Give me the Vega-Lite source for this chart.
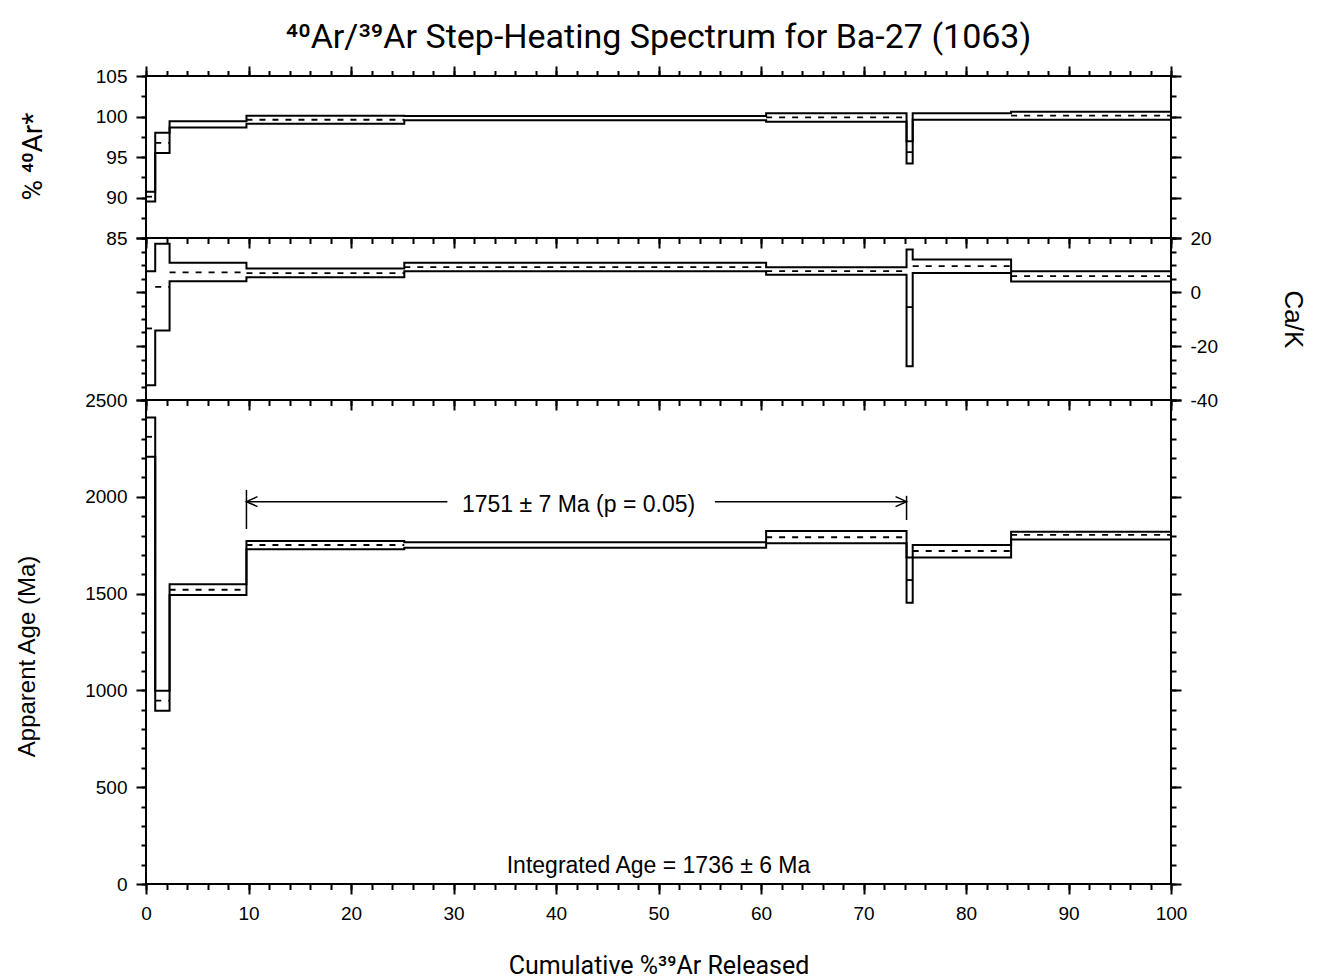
{
  "$schema": "https://vega.github.io/schema/vega-lite/v6.json",
  "padding": {"left": 14, "top": 21, "right": 8, "bottom": 0},
  "background": "white",
  "title": {"text": "⁴⁰Ar/³⁹Ar Step-Heating Spectrum for Ba-27 (1063)", "font": "Roboto", "fontSize": 34, "fontWeight": "normal", "color": "black", "anchor": "middle", "frame": "group", "offset": 9},
  "datasets": {
    "steps": [
      {"step": 1, "x0": 0, "x1": 0.9, "ar": 90.1, "ar_lo": 89.5, "ar_hi": 90.7, "cak": -13.5, "cak_lo": -34.5, "cak_hi": 7.7, "age": 2310, "age_lo": 2207, "age_hi": 2410},
      {"step": 2, "x0": 0.9, "x1": 2.3, "ar": 96.75, "ar_lo": 95.5, "ar_hi": 98.0, "cak": 1.9, "cak_lo": -14.3, "cak_hi": 17.85, "age": 947, "age_lo": 895, "age_hi": 998},
      {"step": 3, "x0": 2.3, "x1": 9.8, "ar": 99.0, "ar_lo": 98.65, "ar_hi": 99.4, "cak": 7.3, "cak_lo": 4.0, "cak_hi": 10.8, "age": 1520, "age_lo": 1493, "age_hi": 1548},
      {"step": 4, "x0": 9.8, "x1": 25.2, "ar": 99.6, "ar_lo": 99.1, "ar_hi": 100.1, "cak": 7.0, "cak_lo": 5.5, "cak_hi": 8.7, "age": 1751, "age_lo": 1729, "age_hi": 1772},
      {"step": 5, "x0": 25.2, "x1": 60.5, "ar": 99.8, "ar_lo": 99.55, "ar_hi": 100.05, "cak": 9.2, "cak_lo": 7.7, "cak_hi": 10.8, "age": 1751, "age_lo": 1737, "age_hi": 1765},
      {"step": 6, "x0": 60.5, "x1": 74.2, "ar": 99.9, "ar_lo": 99.35, "ar_hi": 100.4, "cak": 7.7, "cak_lo": 6.4, "cak_hi": 9.2, "age": 1791, "age_lo": 1760, "age_hi": 1823},
      {"step": 7, "x0": 74.2, "x1": 74.8, "ar": 95.6, "ar_lo": 94.2, "ar_hi": 96.95, "cak": -5.6, "cak_lo": -27.5, "cak_hi": 15.7, "age": 1570, "age_lo": 1453, "age_hi": 1687},
      {"step": 8, "x0": 74.8, "x1": 84.4, "ar": 100.0, "ar_lo": 99.6, "ar_hi": 100.4, "cak": 9.6, "cak_lo": 7.0, "cak_hi": 12.0, "age": 1720, "age_lo": 1687, "age_hi": 1751},
      {"step": 9, "x0": 84.4, "x1": 100, "ar": 100.1, "ar_lo": 99.6, "ar_hi": 100.6, "cak": 5.85, "cak_lo": 3.9, "cak_hi": 7.7, "age": 1803, "age_lo": 1780, "age_hi": 1820}
    ]
  },
  "spacing": 0,
  "bounds": "flush",
  "vconcat": [
    {
      "width": 1025,
      "height": 162,
      "data": {"name": "steps"},
      "layer": [
        {
          "transform": [{"fold": ["x0", "x1"], "as": ["k", "x"]}],
          "mark": {"type": "line", "color": "black", "strokeWidth": 2},
          "encoding": {
            "x": {"field": "x", "type": "quantitative", "scale": {"domain": [0, 100], "nice": false}, "axis": {"orient": "top", "values": [0, 10, 20, 30, 40, 50, 60, 70, 80, 90, 100], "labels": false, "tickSize": 10, "title": null}},
            "y": {"field": "ar_hi", "type": "quantitative", "scale": {"domain": [85, 105], "nice": false, "zero": false}, "axis": {"orient": "left", "values": [85, 90, 95, 100, 105], "labelExpr": "datum.value + ''", "tickSize": 10, "title": "% ⁴⁰Ar*", "titleFont": "Roboto", "titleFontSize": 28, "titleX": -105, "titleY": 80, "titleAngle": -90, "titleAlign": "center", "titleBaseline": "alphabetic"}},
            "order": [{"field": "step"}, {"field": "k"}]
          }
        },
        {
          "transform": [{"fold": ["x0", "x1"], "as": ["k", "x"]}],
          "mark": {"type": "line", "color": "black", "strokeWidth": 2},
          "encoding": {
            "x": {"field": "x", "type": "quantitative", "axis": {"orient": "top", "values": [0,2,4,6,8,10,12,14,16,18,20,22,24,26,28,30,32,34,36,38,40,42,44,46,48,50,52,54,56,58,60,62,64,66,68,70,72,74,76,78,80,82,84,86,88,90,92,94,96,98,100], "labels": false, "tickSize": 5.5, "title": null}},
            "y": {"field": "ar_lo", "type": "quantitative", "axis": {"orient": "left", "values": [85, 87.5, 90, 92.5, 95, 97.5, 100, 102.5, 105], "labels": false, "tickSize": 5, "title": null}},
            "order": [{"field": "step"}, {"field": "k"}]
          }
        },
        {
          "transform": [{"filter": "datum.ar_hi - datum.ar_lo > 0.85"}],
          "mark": {"type": "rule", "color": "black", "strokeWidth": 1.8, "strokeDash": [6, 7]},
          "encoding": {
            "x": {"field": "x0", "type": "quantitative", "axis": {"orient": "bottom", "values": [0, 10, 20, 30, 40, 50, 60, 70, 80, 90, 100], "labels": false, "tickSize": 10, "title": null}},
            "x2": {"field": "x1"},
            "y": {"field": "ar", "type": "quantitative", "axis": {"orient": "right", "values": [85, 90, 95, 100, 105], "labels": false, "tickSize": 10, "title": null}}
          }
        },
        {
          "mark": {"type": "rule", "opacity": 0},
          "encoding": {
            "x": {"field": "x0", "type": "quantitative", "axis": {"orient": "bottom", "values": [0,2,4,6,8,10,12,14,16,18,20,22,24,26,28,30,32,34,36,38,40,42,44,46,48,50,52,54,56,58,60,62,64,66,68,70,72,74,76,78,80,82,84,86,88,90,92,94,96,98,100], "labels": false, "tickSize": 5.5, "title": null}},
            "x2": {"field": "x1"},
            "y": {"field": "ar", "type": "quantitative", "axis": {"orient": "right", "values": [85, 87.5, 90, 92.5, 95, 97.5, 100, 102.5, 105], "labels": false, "tickSize": 5, "title": null}}
          }
        }
      ],
      "resolve": {"axis": {"x": "independent", "y": "independent"}}
    },
    {
      "width": 1025,
      "height": 162,
      "data": {"name": "steps"},
      "layer": [
        {
          "transform": [{"fold": ["x0", "x1"], "as": ["k", "x"]}],
          "mark": {"type": "line", "color": "black", "strokeWidth": 2},
          "encoding": {
            "x": {"field": "x", "type": "quantitative", "scale": {"domain": [0, 100], "nice": false}, "axis": {"orient": "bottom", "values": [0, 10, 20, 30, 40, 50, 60, 70, 80, 90, 100], "labels": false, "tickSize": 10, "title": null}},
            "y": {"field": "cak_hi", "type": "quantitative", "scale": {"domain": [-40, 20], "nice": false, "zero": false}, "axis": {"orient": "left", "values": [-40, -20, 0, 20], "labels": false, "tickSize": 10, "title": null}},
            "order": [{"field": "step"}, {"field": "k"}]
          }
        },
        {
          "transform": [{"fold": ["x0", "x1"], "as": ["k", "x"]}],
          "mark": {"type": "line", "color": "black", "strokeWidth": 2},
          "encoding": {
            "x": {"field": "x", "type": "quantitative", "axis": {"orient": "bottom", "values": [0,2,4,6,8,10,12,14,16,18,20,22,24,26,28,30,32,34,36,38,40,42,44,46,48,50,52,54,56,58,60,62,64,66,68,70,72,74,76,78,80,82,84,86,88,90,92,94,96,98,100], "labels": false, "tickSize": 5.5, "title": null}},
            "y": {"field": "cak_lo", "type": "quantitative", "axis": {"orient": "left", "values": [-40, -35, -30, -25, -20, -15, -10, -5, 0, 5, 10, 15, 20], "labels": false, "tickSize": 5, "title": null}},
            "order": [{"field": "step"}, {"field": "k"}]
          }
        },
        {
          "mark": {"type": "rule", "color": "black", "strokeWidth": 1.8, "strokeDash": [6, 7]},
          "encoding": {
            "x": {"field": "x0", "type": "quantitative", "axis": null},
            "x2": {"field": "x1"},
            "y": {"field": "cak", "type": "quantitative", "axis": {"orient": "right", "values": [-40, -20, 0, 20], "labelExpr": "datum.value + ''", "tickSize": 10, "title": "Ca/K", "titleFontSize": 26, "titleX": 113, "titleY": 81, "titleAngle": 90, "titleAlign": "center", "titleBaseline": "alphabetic"}}
          }
        },
        {
          "mark": {"type": "rule", "opacity": 0},
          "encoding": {
            "x": {"field": "x0", "type": "quantitative", "axis": null},
            "x2": {"field": "x1"},
            "y": {"field": "cak", "type": "quantitative", "axis": {"orient": "right", "values": [-40, -35, -30, -25, -20, -15, -10, -5, 0, 5, 10, 15, 20], "labels": false, "tickSize": 5, "title": null}}
          }
        }
      ],
      "resolve": {"axis": {"x": "independent", "y": "independent"}}
    },
    {
      "width": 1025,
      "height": 484,
      "data": {"name": "steps"},
      "layer": [
        {
          "transform": [{"fold": ["x0", "x1"], "as": ["k", "x"]}],
          "mark": {"type": "line", "color": "black", "strokeWidth": 2},
          "encoding": {
            "x": {"field": "x", "type": "quantitative", "scale": {"domain": [0, 100], "nice": false}, "axis": {"orient": "bottom", "values": [0, 10, 20, 30, 40, 50, 60, 70, 80, 90, 100], "labelExpr": "datum.value + ''", "tickSize": 10, "labelPadding": 10, "title": "Cumulative %³⁹Ar Released", "titleFont": "Roboto", "titleFontSize": 25, "titleX": 512.5, "titleY": 89, "titleAlign": "center", "titleBaseline": "alphabetic"}},
            "y": {"field": "age_hi", "type": "quantitative", "scale": {"domain": [0, 2500], "nice": false}, "axis": {"orient": "left", "values": [0, 500, 1000, 1500, 2000, 2500], "labelExpr": "datum.value + ''", "tickSize": 10, "title": "Apparent Age (Ma)", "titleX": -112, "titleY": 256, "titleAngle": -90, "titleAlign": "center", "titleBaseline": "alphabetic"}},
            "order": [{"field": "step"}, {"field": "k"}]
          }
        },
        {
          "transform": [{"fold": ["x0", "x1"], "as": ["k", "x"]}],
          "mark": {"type": "line", "color": "black", "strokeWidth": 2},
          "encoding": {
            "x": {"field": "x", "type": "quantitative", "axis": {"orient": "bottom", "values": [0,2,4,6,8,10,12,14,16,18,20,22,24,26,28,30,32,34,36,38,40,42,44,46,48,50,52,54,56,58,60,62,64,66,68,70,72,74,76,78,80,82,84,86,88,90,92,94,96,98,100], "labels": false, "tickSize": 5.5, "title": null}},
            "y": {"field": "age_lo", "type": "quantitative", "axis": {"orient": "left", "values": [0,100,200,300,400,500,600,700,800,900,1000,1100,1200,1300,1400,1500,1600,1700,1800,1900,2000,2100,2200,2300,2400,2500], "labels": false, "tickSize": 5, "title": null}},
            "order": [{"field": "step"}, {"field": "k"}]
          }
        },
        {
          "transform": [{"filter": "datum.age_hi - datum.age_lo > 35"}],
          "mark": {"type": "rule", "color": "black", "strokeWidth": 1.8, "strokeDash": [6, 7]},
          "encoding": {
            "x": {"field": "x0", "type": "quantitative", "axis": null},
            "x2": {"field": "x1"},
            "y": {"field": "age", "type": "quantitative", "axis": {"orient": "right", "values": [0, 500, 1000, 1500, 2000, 2500], "labels": false, "tickSize": 10, "title": null}}
          }
        },
        {
          "mark": {"type": "rule", "opacity": 0},
          "encoding": {
            "x": {"field": "x0", "type": "quantitative", "axis": null},
            "x2": {"field": "x1"},
            "y": {"field": "age", "type": "quantitative", "axis": {"orient": "right", "values": [0,100,200,300,400,500,600,700,800,900,1000,1100,1200,1300,1400,1500,1600,1700,1800,1900,2000,2100,2200,2300,2400,2500], "labels": false, "tickSize": 5, "title": null}}
          }
        },
        {
          "data": {"values": [{"xa": 9.8, "xb": 29.4, "y": 1975}, {"xa": 55.5, "xb": 74.2, "y": 1975}]},
          "mark": {"type": "rule", "color": "black", "strokeWidth": 1.5},
          "encoding": {
            "x": {"field": "xa", "type": "quantitative", "axis": null},
            "x2": {"field": "xb"},
            "y": {"field": "y", "type": "quantitative", "axis": null}
          }
        },
        {
          "data": {"values": [{"x": 9.8, "ya": 2035, "yb": 1834}, {"x": 74.2, "ya": 2005, "yb": 1880}]},
          "mark": {"type": "rule", "color": "black", "strokeWidth": 1.5},
          "encoding": {
            "x": {"field": "x", "type": "quantitative", "axis": null},
            "y": {"field": "ya", "type": "quantitative", "axis": null},
            "y2": {"field": "yb"}
          }
        },
        {
          "data": {"values": [{"x": 9.8, "y": 1975}]},
          "mark": {"type": "point", "shape": "M2,-0.9L0,0L2,0.9", "size": 121, "filled": false, "stroke": "black", "strokeWidth": 1.5, "opacity": 1},
          "encoding": {
            "x": {"field": "x", "type": "quantitative", "axis": null},
            "y": {"field": "y", "type": "quantitative", "axis": null}
          }
        },
        {
          "data": {"values": [{"x": 74.2, "y": 1975}]},
          "mark": {"type": "point", "shape": "M-2,-0.9L0,0L-2,0.9", "size": 121, "filled": false, "stroke": "black", "strokeWidth": 1.5, "opacity": 1},
          "encoding": {
            "x": {"field": "x", "type": "quantitative", "axis": null},
            "y": {"field": "y", "type": "quantitative", "axis": null}
          }
        },
        {
          "data": {"values": [{"x": 42.2, "y": 1957, "label": "1751 ± 7 Ma (p = 0.05)"}, {"x": 50.0, "y": 93, "label": "Integrated Age = 1736 ± 6 Ma"}]},
          "mark": {"type": "text", "font": "Liberation Sans", "fontSize": 23, "color": "black", "align": "center", "baseline": "middle"},
          "encoding": {
            "x": {"field": "x", "type": "quantitative", "axis": null},
            "y": {"field": "y", "type": "quantitative", "axis": null},
            "text": {"field": "label"}
          }
        }
      ],
      "resolve": {"axis": {"x": "independent", "y": "independent"}}
    }
  ],
  "config": {
    "font": "Liberation Sans",
    "view": {"stroke": "black", "strokeWidth": 2},
    "axis": {
      "domain": false,
      "grid": false,
      "ticks": true,
      "tickColor": "black",
      "tickWidth": 2,
      "labelColor": "black",
      "labelFont": "Liberation Sans",
      "labelFontSize": 19,
      "labelPadding": 9,
      "labelFlush": false,
      "labelOverlap": false,
      "titleFont": "Liberation Sans",
      "titleFontSize": 24,
      "titleFontWeight": "normal",
      "titleColor": "black"
    }
  }
}
